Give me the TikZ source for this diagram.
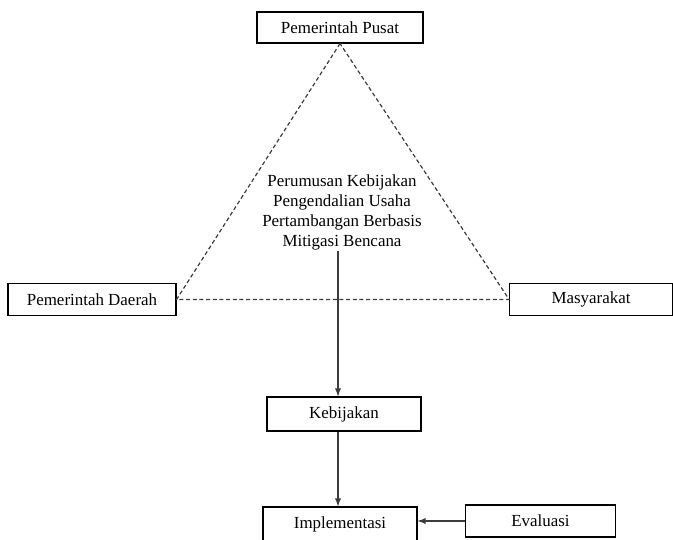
\documentclass[tikz,border=0pt]{standalone}
\usepackage{fontspec}
\setmainfont{Liberation Serif}
\usepackage{tikz}
\definecolor{lineGray}{RGB}{60, 60, 60}

\begin{document}
\begin{tikzpicture}[x=0.75pt, y=-0.75pt, >=latex,
	box/.style={draw=black, line width=0.8pt, inner sep=0pt, font=\fontsize{12.7}{15}\selectfont},
	link/.style={lineGray, line width=0.9pt, dash pattern=on 3pt off 2pt},
	flow/.style={->, lineGray, line width=1.1pt}]
					\clip (0, 0) rectangle (673, 539);
					
					% Actors
					\node[box, minimum width=124.5pt, minimum height=23.25pt] (pusat) at (340, 27.5) {Pemerintah Pusat};
					\node[box, minimum width=126pt, minimum height=24pt] (daerah) at (92, 299.5) {Pemerintah Daerah};
					\node[box, minimum width=122pt, minimum height=24pt] (masy) at (591, 299.5) {Masyarakat};
					
					% Dashed triangle between the actors
					\draw[link] (pusat.south) -- (daerah.east) -- (masy.west) -- cycle;
					
					% Policy formulation inside the triangle
					\node[font=\fontsize{12.7}{15}\selectfont, align=center, inner sep=1pt] (rumus) at (342, 212)
						{Perumusan Kebijakan\\Pengendalian Usaha\\Pertambangan Berbasis\\Mitigasi Bencana};
					
					% Flow downwards
					\node[box, minimum width=115.5pt, minimum height=25.5pt] (kebijakan) at (344, 414) {Kebijakan};
					\node[box, minimum width=115.5pt, minimum height=30pt, text depth=6pt] (impl) at (340, 527) {Implementasi};
					\node[box, minimum width=113pt, minimum height=24pt] (eval) at (540.5, 521) {Evaluasi};
					
					\draw[flow] (rumus.south -| 338, 0) -- (kebijakan.north -| 338, 0);
					\draw[flow] (kebijakan.south -| 338, 0) -- (impl.north -| 338, 0);
					\draw[flow] (eval.west) -- (eval.west -| impl.east);
				\end{tikzpicture}
\end{document}
